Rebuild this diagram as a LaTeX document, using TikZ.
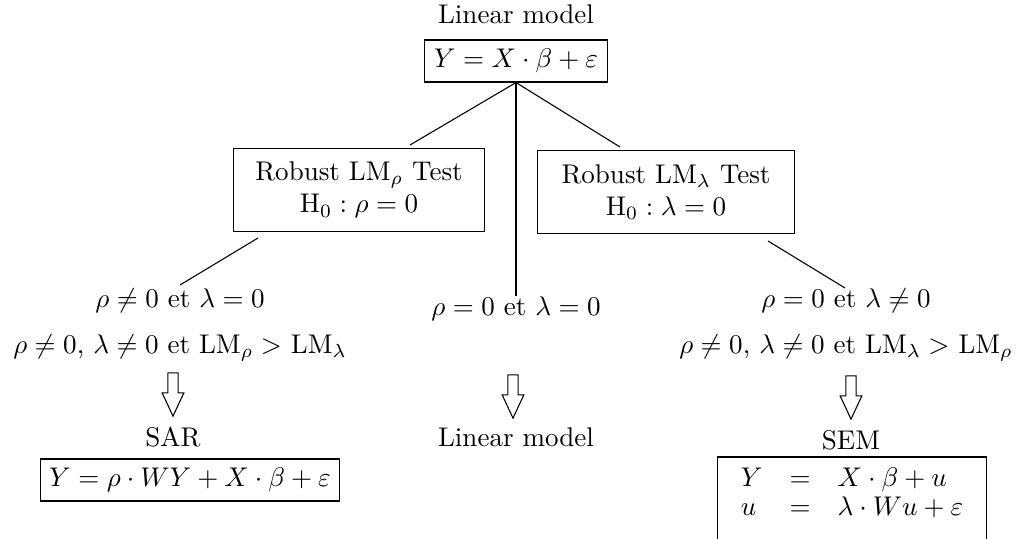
\documentclass[tikz,border=0pt]{standalone}
\usepackage{amsmath}
\usepackage{tikz}
\usetikzlibrary{shapes.arrows,positioning,calc}
\tikzset{MODEL/.style={rectangle,draw,thin,align=flush center}}
\tikzset{TEST/.style={rectangle,draw,thin,align=flush center,minimum width=93pt,minimum height=31pt}}
\tikzset{CHOICE/.style={align=flush center,inner sep=0pt}}
\tikzset{LINK/.style={thin}}
\tikzset{DOWN/.style={single arrow,draw,thin,shape border rotate=270,minimum height=16pt,minimum width=7.6pt,single arrow head extend=2.1pt,single arrow tip angle=50,inner sep=1.7pt}}

\begin{document}
\begin{tikzpicture}[x=0.37pt,y=-0.37pt]
\useasboundingbox (0,0) rectangle (1016,539);
\clip (0,0) rectangle (1016,539);

\node[MODEL] (n_linear) at (516,61) {$Y = X\cdot\beta+\varepsilon$};
\node[above=0.5ex of n_linear] (n_linear_title) {Linear model};

\node[TEST] (n_test_rho) at (359,190) {Robust LM$_\rho$ Test \\ H$_0 : \rho = 0$};
\node[TEST, minimum width=95pt] (n_test_lambda) at (666,192) {Robust LM$_\lambda$ Test \\ H$_0 : \lambda = 0$};

\coordinate (c_rho_in) at (410,145);
\coordinate (c_lambda_in) at (620,147);
\draw[LINK] (n_linear.south) -- (c_rho_in);
\draw[LINK] (n_linear.south) -- (c_lambda_in);

\node[CHOICE] (n_choice_rho) at (180,325) {$\rho \neq 0$ et $\lambda = 0$ \\[1.1ex] $\rho \neq 0$, $\lambda \neq 0$ et LM$_\rho >$ LM$_\lambda$};
\node[CHOICE] (n_choice_none) at (516,309) {$\rho = 0$ et $\lambda = 0$};
\node[CHOICE] (n_choice_lambda) at (846,325) {$\rho = 0$ et $\lambda \neq 0$ \\[1.1ex] $\rho \neq 0$, $\lambda \neq 0$ et LM$_\lambda >$ LM$_\rho$};

\draw[LINK] (n_linear.south) -- (n_choice_none.north);

\coordinate (c_rho_out) at (258,238);
\coordinate (c_rho_choice) at (180,285);
\draw[LINK] (c_rho_out) -- (c_rho_choice);
\coordinate (c_lambda_out) at (768,241);
\coordinate (c_lambda_choice) at (845,288);
\draw[LINK] (c_lambda_out) -- (c_lambda_choice);

\node[DOWN] (n_down_rho) at (173,389) {};
\node[DOWN] (n_down_none) at (513,391) {};
\node[DOWN] (n_down_lambda) at (851,392) {};

\node (n_sar_title) at (173,437) {SAR};
\node[MODEL] (n_sar) at (190,480) {$Y = \rho\cdot WY + X\cdot\beta+\varepsilon$};

\node (n_lm_title) at (516,437) {Linear model};

\node (n_sem_title) at (851,440) {SEM};
\node[anchor=north] (n_sem) at (852,457) {\renewcommand{\arraystretch}{0.88}$\begin{array}{lcl}
    Y & = & X\cdot\beta+u \\
    u & = & \lambda\cdot Wu+\varepsilon
\end{array}$};
\draw[thin] (n_sem.north west) rectangle ($(n_sem.south east)+(0,40)$);

\end{tikzpicture}
\end{document}
